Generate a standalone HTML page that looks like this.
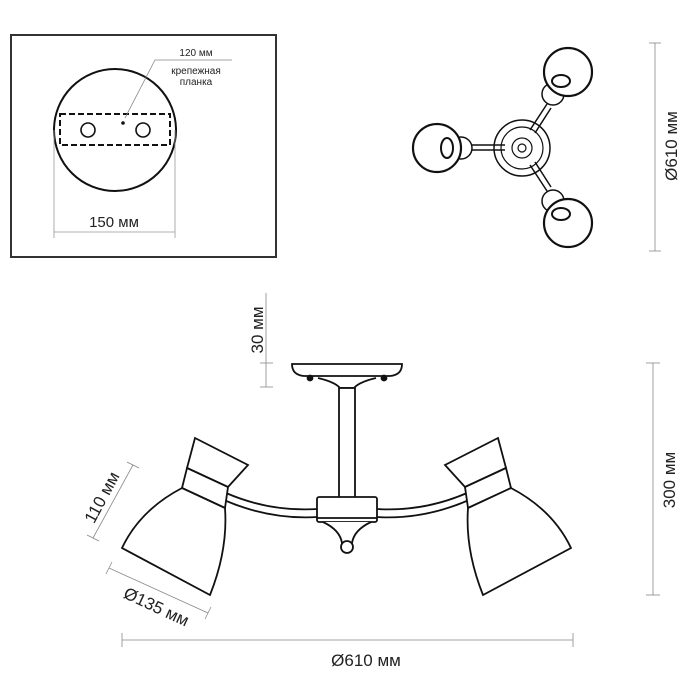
<!DOCTYPE html>
<html><head><meta charset="utf-8"><style>
html,body{margin:0;padding:0;background:#fff;}
svg{display:block;}
text{font-family:"Liberation Sans","DejaVu Sans",sans-serif;fill:#222;}
</style></head><body>
<svg width="700" height="700" viewBox="0 0 700 700" xmlns="http://www.w3.org/2000/svg">
<rect x="11" y="35" width="265" height="222" fill="none" stroke="#333" stroke-width="2"/>
<circle cx="115" cy="130" r="61" fill="none" stroke="#111" stroke-width="2"/>
<rect x="60" y="114" width="110" height="31" fill="none" stroke="#111" stroke-width="2" stroke-dasharray="6,3"/>
<circle cx="88" cy="130" r="7" fill="none" stroke="#111" stroke-width="1.6"/>
<circle cx="143" cy="130" r="7" fill="none" stroke="#111" stroke-width="1.6"/>
<circle cx="123" cy="123" r="1.8" fill="#111"/>
<polyline points="125,118 155,60 232,60" fill="none" stroke="#888" stroke-width="0.8"/>
<text x="196" y="56" font-size="10" text-anchor="middle">120 мм</text>
<text x="196" y="74" font-size="10" text-anchor="middle">крепежная</text>
<text x="196" y="85" font-size="10" text-anchor="middle">планка</text>
<line x1="54" y1="130" x2="54" y2="238" stroke="#999" stroke-width="0.8"/>
<line x1="175" y1="130" x2="175" y2="238" stroke="#999" stroke-width="0.8"/>
<line x1="54" y1="232" x2="175" y2="232" stroke="#999" stroke-width="0.8"/>
<text x="114" y="227" font-size="15" text-anchor="middle">150 мм</text>

<g stroke="#111" fill="none">
<line x1="472" y1="145" x2="505" y2="145" stroke-width="1.5"/>
<line x1="472" y1="150" x2="505" y2="150" stroke-width="1.5"/>
<line x1="530" y1="130" x2="547" y2="104" stroke-width="1.5"/>
<line x1="535" y1="133" x2="551" y2="108" stroke-width="1.5"/>
<line x1="530" y1="165" x2="547" y2="191" stroke-width="1.5"/>
<line x1="535" y1="162" x2="551" y2="187" stroke-width="1.5"/>
<circle cx="522" cy="148" r="28" stroke-width="1.5"/>
<circle cx="522" cy="148" r="21" stroke-width="1.2"/>
<circle cx="522" cy="148" r="10" stroke-width="1.2"/>
<circle cx="522" cy="148" r="4" stroke-width="1.2"/>
<circle cx="461" cy="148" r="11" stroke-width="1.5" fill="#fff"/>
<circle cx="437" cy="148" r="24" stroke-width="2.2" fill="#fff"/>
<ellipse cx="447" cy="148" rx="6" ry="10" stroke-width="2"/>
<circle cx="553" cy="94" r="11" stroke-width="1.5" fill="#fff"/>
<circle cx="568" cy="72" r="24" stroke-width="2.2" fill="#fff"/>
<ellipse cx="561" cy="81" rx="9" ry="6" stroke-width="2"/>
<circle cx="553" cy="201" r="11" stroke-width="1.5" fill="#fff"/>
<circle cx="568" cy="223" r="24" stroke-width="2.2" fill="#fff"/>
<ellipse cx="561" cy="214" rx="9" ry="6" stroke-width="2"/>
</g>
<line x1="655" y1="43" x2="655" y2="251" stroke="#888" stroke-width="0.8"/>
<line x1="649" y1="43" x2="661" y2="43" stroke="#888" stroke-width="0.8"/>
<line x1="649" y1="251" x2="661" y2="251" stroke="#888" stroke-width="0.8"/>
<text transform="translate(677,146) rotate(-90)" font-size="17" text-anchor="middle">Ø610 мм</text>

<g stroke="#111" fill="#fff" stroke-width="1.8">
<path d="M292,364 L402,364 Q402,375 390,376 L304,376 Q292,375 292,364 Z"/>
<path d="M318,378 Q335,382 340,388 L354,388 Q359,382 376,378"/>
<circle cx="310" cy="378" r="2.5" fill="#111"/>
<circle cx="384" cy="378" r="2.5" fill="#111"/>
<rect x="339" y="388" width="16" height="110"/>
<path d="M226,493 Q270,512 318,509" fill="none"/>
<path d="M224,500 Q270,520 318,517" fill="none"/>
<path d="M467,493 Q423,512 376,509" fill="none"/>
<path d="M469,500 Q423,520 376,517" fill="none"/>
<rect x="317" y="497" width="60" height="25" rx="2"/>
<line x1="317" y1="518" x2="377" y2="518"/>
<path d="M323,522 Q340,530 342,543 L352,543 Q354,530 371,522"/>
<circle cx="347" cy="547" r="6"/>
<path d="M195,438 L248,465 L228,487 L187,468 Z"/>
<path d="M187,468 L228,487 L225,508 L182,488 Z"/>
<path d="M182,488 Q140,510 122,548 L210,595 Q228,550 225,508 Z"/>
<g transform="translate(693,0) scale(-1,1)">
<path d="M195,438 L248,465 L228,487 L187,468 Z"/>
<path d="M187,468 L228,487 L225,508 L182,488 Z"/>
<path d="M182,488 Q140,510 122,548 L210,595 Q228,550 225,508 Z"/>
</g>
</g>
<g stroke="#888" stroke-width="0.8" fill="none">
<line x1="266" y1="293" x2="266" y2="387"/>
<line x1="260" y1="363" x2="273" y2="363"/>
<line x1="260" y1="387" x2="273" y2="387"/>
<line x1="653" y1="363" x2="653" y2="595"/>
<line x1="646" y1="363" x2="660" y2="363"/>
<line x1="646" y1="595" x2="660" y2="595"/>
<line x1="122" y1="640" x2="573" y2="640"/>
<line x1="122" y1="633" x2="122" y2="647"/>
<line x1="573" y1="633" x2="573" y2="647"/>
<line x1="133" y1="465" x2="93" y2="538"/>
<line x1="127" y1="462" x2="139" y2="468"/>
<line x1="87" y1="535" x2="99" y2="541"/>
<line x1="109" y1="568" x2="208" y2="613"/>
<line x1="112" y1="562" x2="106" y2="574"/>
<line x1="211" y1="607" x2="205" y2="619"/>
</g>
<text transform="translate(263,330) rotate(-90)" font-size="17" text-anchor="middle">30 мм</text>
<text transform="translate(675,480) rotate(-90)" font-size="17" text-anchor="middle">300 мм</text>
<text x="366" y="666" font-size="17" text-anchor="middle">Ø610 мм</text>
<text transform="translate(107,500) rotate(-62)" font-size="17" text-anchor="middle">110 мм</text>
<text transform="translate(154,612) rotate(25)" font-size="17" text-anchor="middle">Ø135 мм</text>
</svg>
</body></html>
